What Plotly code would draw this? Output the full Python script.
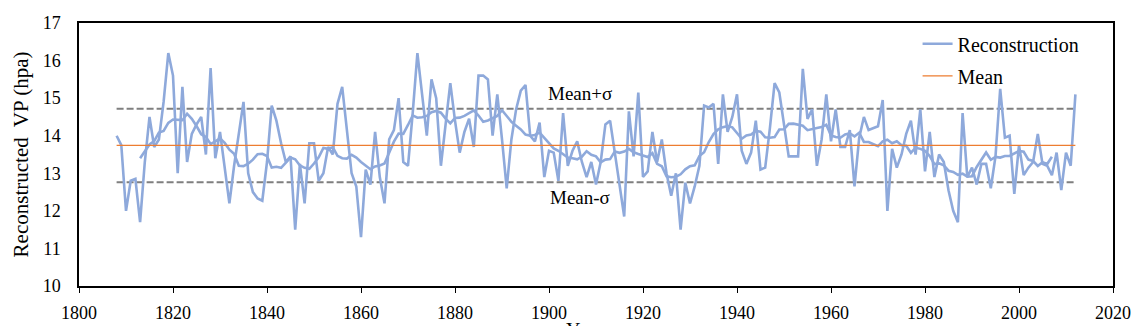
import plotly.graph_objects as go
import pandas as pd

# ---- data ----
start_year = 1808
vp = [
    14.0, 13.75, 12.0, 12.8, 12.85, 11.7, 13.3, 14.5, 13.7, 13.9,     # 1808-1817
    14.9, 16.2, 15.6, 13.0, 15.3, 13.3, 14.05, 14.3, 14.5, 13.5,      # 1818-1827
    15.8, 13.4, 14.1, 13.2, 12.2, 13.2, 14.1, 14.9, 13.0, 12.5,       # 1828-1837
    12.33, 12.27, 13.3, 14.8, 14.4, 13.8, 13.3, 13.45, 11.5, 13.25,   # 1838-1847
    12.2, 13.8, 13.8, 12.8, 13.0, 13.7, 13.5, 14.85, 15.3, 14.2,      # 1848-1857
    13.0, 12.65, 11.3, 13.1, 12.7, 14.1, 12.9, 12.2, 13.9, 14.15,     # 1858-1867
    15.0, 13.3, 13.2, 14.6, 16.2, 15.1, 14.0, 15.5, 15.0, 13.2,       # 1868-1877
    14.3, 15.4, 14.4, 13.55, 14.1, 14.45, 13.7, 15.6, 15.6, 15.5,     # 1878-1887
    14.0, 15.1, 13.9, 12.6, 13.9, 14.7, 15.2, 15.35, 14.0, 13.85,     # 1888-1897
    14.35, 12.9, 13.6, 13.55, 12.8, 14.6, 13.2, 13.6, 13.85, 13.3,    # 1898-1907
    12.9, 13.3, 12.7, 13.3, 14.3, 14.4, 13.55, 12.75, 11.85, 14.65,   # 1908-1917
    13.45, 15.15, 12.9, 13.05, 14.1, 13.3, 13.9, 13.0, 12.4, 13.0,    # 1918-1927
    11.5, 12.75, 12.2, 12.65, 13.2, 14.8, 14.75, 14.85, 13.25, 15.1,  # 1928-1937
    14.1, 14.5, 15.1, 13.6, 13.25, 13.55, 14.4, 13.1, 13.15, 14.2,    # 1938-1947
    15.4, 15.15, 14.3, 13.45, 13.45, 13.45, 15.78, 14.45, 14.7, 13.2, # 1948-1957
    13.9, 15.1, 13.85, 14.7, 13.7, 13.7, 14.15, 12.65, 13.95, 14.5,   # 1958-1967
    14.15, 14.2, 14.25, 14.95, 12.0, 13.65, 13.15, 13.5, 14.05, 14.4, # 1968-1977
    13.5, 14.7, 13.05, 14.1, 12.9, 13.5, 13.3, 12.55, 12.0, 11.7,     # 1978-1987
    14.6, 12.9, 13.15, 12.7, 13.25, 13.25, 12.6, 13.45, 15.25, 13.95, # 1988-1997
    14.0, 12.45, 13.75, 12.95, 13.15, 13.3, 14.05, 13.25, 13.2, 12.95,# 1998-2007
    13.55, 12.55, 13.55, 13.2, 15.1,                                   # 2008-2012
]
years = list(range(start_year, start_year + len(vp)))
MEAN = 13.74
SIGMA = 0.98
x_ticks = [1800, 1820, 1840, 1860, 1880, 1900, 1920, 1940, 1960, 1980, 2000, 2020]
y_ticks = [10, 11, 12, 13, 14, 15, 16, 17]

smooth = pd.Series(vp).rolling(11, center=True).mean()

BLUE = "#8EA9DB"
ORANGE = "#ED7D31"
GRAY = "#7F7F7F"
FONT = "Liberation Serif"

fig = go.Figure()
fig.add_trace(go.Scatter(x=years, y=[MEAN + SIGMA] * len(years), mode="lines",
                         line=dict(color=GRAY, width=2, dash="7px,3px"),
                         showlegend=False, hoverinfo="skip"))
fig.add_trace(go.Scatter(x=years, y=[MEAN - SIGMA] * len(years), mode="lines",
                         line=dict(color=GRAY, width=2, dash="7px,3px"),
                         showlegend=False, hoverinfo="skip"))
fig.add_trace(go.Scatter(x=years, y=vp, mode="lines", name="Reconstruction",
                         line=dict(color=BLUE, width=2.6), legendgroup="a"))
fig.add_trace(go.Scatter(x=years, y=smooth, mode="lines", name="11-yr",
                         line=dict(color=BLUE, width=2.6), showlegend=False))
fig.add_trace(go.Scatter(x=years, y=[MEAN] * len(years), mode="lines", name="Mean",
                         line=dict(color=ORANGE, width=1.25), legendgroup="b"))

fig.add_annotation(x=1906.5, y=15.13, xref="x", yref="y", text="Mean+σ",
                   showarrow=False, font=dict(family=FONT, size=19, color="black"))
fig.add_annotation(x=1906.5, y=12.36, xref="x", yref="y", text="Mean-σ",
                   showarrow=False, font=dict(family=FONT, size=19, color="black"))
# x-axis title, sitting at the bottom edge as in the reference
fig.add_annotation(x=0.489, y=0, xref="paper", yref="paper", text="Year",
                   yanchor="top", yshift=-31, showarrow=False,
                   font=dict(family=FONT, size=20, color="black"))

fig.update_layout(
    width=1140, height=326,
    margin=dict(l=79, r=27, t=23, b=40),
    paper_bgcolor="white", plot_bgcolor="white",
    font=dict(family=FONT, color="black"),
    xaxis=dict(range=[1800, 2020], tickvals=x_ticks, ticklabelstandoff=5,
               showline=True, linecolor="black", linewidth=1.5, mirror=True,
               showgrid=False, zeroline=False, ticks="outside", ticklen=5,
               tickcolor="black", automargin=False,
               tickfont=dict(family=FONT, size=18, color="black")),
    yaxis=dict(range=[10, 17], tickvals=y_ticks, ticklabelstandoff=13,
               showline=True, linecolor="black", linewidth=1.5, mirror=True,
               showgrid=False, zeroline=False, ticks="", automargin=False,
               tickfont=dict(family=FONT, size=18, color="black"),
               title=dict(text="Reconstructed  VP (hpa)", standoff=8,
                          font=dict(family=FONT, size=21, color="black"))),
    legend=dict(x=0.811, y=0.995, xanchor="left", yanchor="top",
                bgcolor="rgba(0,0,0,0)", font=dict(family=FONT, size=20, color="black"),
                itemwidth=30, tracegroupgap=3, traceorder="grouped"),
    showlegend=True,
)

fig.write_html("out.html")
